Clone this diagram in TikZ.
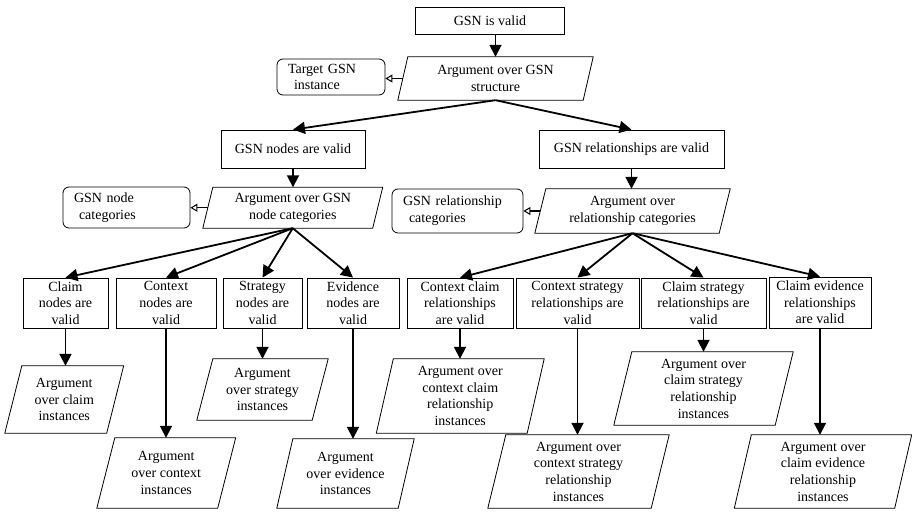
\documentclass[tikz,border=0pt]{standalone}
\usepackage{fontspec}
\setmainfont{Liberation Serif}
\usetikzlibrary{arrows.meta,calc}
\begin{document}
\begin{tikzpicture}[x=1pt,y=-1pt,
  every node/.style={font=\fontsize{14}{16.7}\selectfont, inner sep=0pt, align=center},
  goal/.style 2 args={draw, line width=0.8pt, rectangle, minimum width=#1pt, minimum height=#2pt},
  strat/.style 2 args={rectangle, minimum width=#1pt, minimum height=#2pt},
  ctx/.style 2 args={draw, line width=0.8pt, rounded corners=6pt, align=left,
                     text width=#1pt, inner xsep=11pt, minimum height=#2pt},
  arr/.style={line width=1.8pt, -{Triangle[length=12pt,width=12pt]}},
  ctxarr/.style={line width=1.4pt, -{Triangle[open,length=7pt,width=8pt,line width=1pt]}},
  outline/.style={line width=0.8pt}
]
\useasboundingbox (0,0) rectangle (912,511);

% top of the argument
\node[goal={149}{27}] (g0) at (490,20.5) {GSN is valid};
\node[strat={185}{43}] (s0) at (495.5,78.5) {Argument over GSN\\structure};
\node[ctx={86}{36}] (c0) at (331,77) {Target GSN\\\hspace*{6pt}instance};

\node[goal={144}{38}] (g1) at (293,149) {GSN nodes are valid};
\node[goal={185}{38}] (g2) at (631.5,149) {GSN relationships are valid};

\node[strat={169.5}{40.5}] (s1) at (292.75,207.75) {Argument over GSN\\node categories};
\node[ctx={105}{41}] (c1) at (126.5,207.5) {GSN node\\\hspace*{5pt}categories};
\node[strat={184}{44}] (s2) at (632.5,211) {Argument over\\relationship categories};
\node[ctx={109}{44}] (c2) at (457.5,211) {GSN relationship\\\hspace*{6pt}categories};

% category goals
\node[goal={85}{50}] (cl) at (65.5,303) {Claim\\nodes are\\valid};
\node[goal={100}{50}] (cx) at (166,303) {Context\\nodes are\\valid};
\node[goal={79}{50}] (st) at (262.5,303) {Strategy\\nodes are\\valid};
\node[goal={92}{50}] (ev) at (353,303) {Evidence\\nodes are\\valid};
\node[goal={106}{50}] (rcc) at (460,303) {Context claim\\relationships\\are valid};
\node[goal={123}{50}] (rcs) at (577.5,303) {Context strategy\\relationships are\\valid};
\node[goal={125}{50}] (rls) at (703.5,303) {Claim strategy\\relationships are\\valid};
\node[goal={102}{51}] (rle) at (820,302.5) {Claim evidence\\relationships\\are valid};

% instance strategies
\node[strat={101.5}{67}] (acl) at (64.25,399.5) {Argument\\over claim\\instances};
\node[strat={120.5}{70}] (acx) at (166.25,473) {Argument\\over context\\instances};
\node[strat={115}{61}] (ast) at (262.5,389.5) {Argument\\over strategy\\instances};
\node[strat={121}{69}] (aev) at (345.5,473.5) {Argument\\over evidence\\instances};
\node[strat={150.5}{74}] (arcc) at (460.25,396) {Argument over\\context claim\\relationship\\instances};
\node[strat={163}{73}] (arcs) at (578.5,471.5) {Argument over\\context strategy\\relationship\\instances};
\node[strat={161}{73}] (arls) at (703.5,388.5) {Argument over\\claim strategy\\relationship\\instances};
\node[strat={160}{73}] (arle) at (823,471.5) {Argument over\\claim evidence\\relationship\\instances};

% parallelogram outlines of the strategies (slant in pt)
\foreach \n/\s in {s0/10, s1/10, s2/11, acl/17, acx/18, ast/16, aev/16,
                   arcc/17, arcs/18, arls/18, arle/17} {
  \draw[outline] ($(\n.south west)+(-\s/2,0)$) -- ($(\n.north west)+(\s/2,0)$)
    -- ($(\n.north east)+(\s/2,0)$) -- ($(\n.south east)+(-\s/2,0)$) -- cycle;
}

% supported-by connectors
\draw[arr] (s0.north |- g0.south) -- (s0.north);
\draw[arr] (s0.south) -- (g1.north);
\draw[arr] (s0.south) -- (g2.north);
\draw[arr] (g1.south) -- (g1.south |- s1.north);
\draw[arr] (g2.south) -- (g2.south |- s2.north);
\foreach \t in {cl,cx,st,ev} \draw[arr] (s1.south) -- (\t.north);
\foreach \t in {rcc,rcs,rls,rle} \draw[arr] (s2.south) -- (\t.north);
\foreach \a/\b in {cl/acl, cx/acx, st/ast, ev/aev, rcc/arcc, rcs/arcs, rls/arls, rle/arle}
  \draw[arr] (\a.south) -- (\a.south |- \b.north);

% in-context-of connectors
\draw[ctxarr] (s0.west) -- (s0.west -| c0.east);
\draw[ctxarr] (s1.west) -- (s1.west -| c1.east);
\draw[ctxarr] (s2.west) -- (s2.west -| c2.east);
\end{tikzpicture}
\end{document}
